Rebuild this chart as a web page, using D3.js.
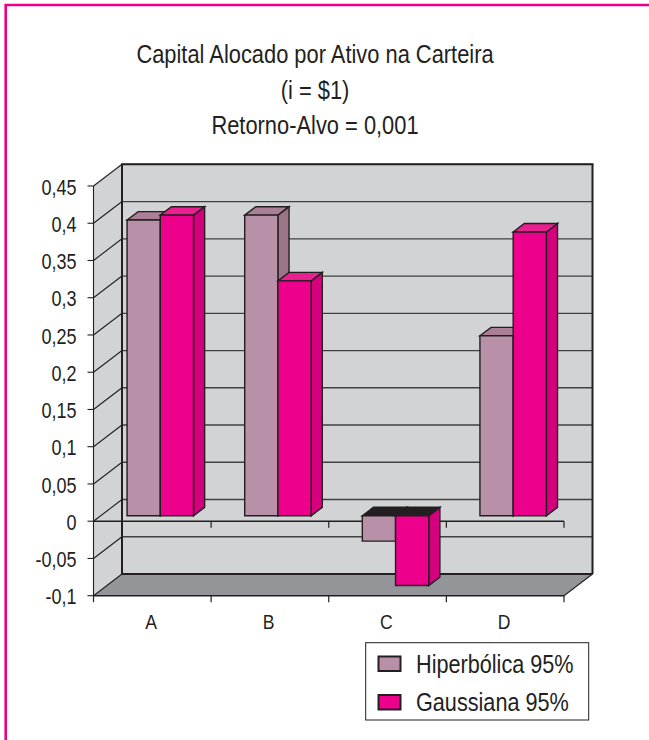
<!DOCTYPE html>
<html><head><meta charset="utf-8">
<script src="https://cdn.jsdelivr.net/npm/d3@7"></script>
<style>html,body{margin:0;padding:0;background:#fff}svg{display:block}text{font-family:"Liberation Sans",Arial,sans-serif;fill:#231f20}</style>
</head><body><svg id="c" width="649" height="740"></svg>
<script>
const categories=["A","B","C","D"];
const seriesNames=["Hiperbólica 95%","Gaussiana 95%"];
const hiperbolica=[0.397,0.4036,-0.034,0.2416];
const gaussiana=[0.4036,0.3154,-0.0936,0.381];
const yTicks=[0.45,0.4,0.35,0.3,0.25,0.2,0.15,0.1,0.05,0,-0.05,-0.1];
const titleLines=["Capital Alocado por Ativo na Carteira","(i = $1)","Retorno-Alvo = 0,001"];
const ink="#231f20";
const svg=d3.select("#c");
const x=d3.scaleBand().domain(categories).range([93.5,564]).paddingInner(0.435).paddingOuter(0.2175);
const x1=d3.scaleBand().domain(seriesNames).range([0,x.bandwidth()]);
const y=d3.scaleLinear().domain([-0.1,0.45]).range([595.7,186]);
const depth=d3.scaleLinear().domain([0,1]).range([0,28.5]);
const rise=d3.scaleLinear().domain([0,1]).range([0,21.7]);
const poly=(pts,fill,sw=1.4,stroke=ink)=>svg.append("polygon").attr("points",pts.map(p=>p.join(",")).join(" ")).attr("fill",fill).attr("stroke",stroke).attr("stroke-width",sw).attr("stroke-linejoin","miter");
const line=(a,b,c,d,w,col=ink)=>svg.append("line").attr("x1",a).attr("y1",b).attr("x2",c).attr("y2",d).attr("stroke",col).attr("stroke-width",w);
const label=(t,px,py,size,sx,anchor)=>svg.append("text").attr("transform",`translate(${px},${py}) scale(${sx},1)`).attr("text-anchor",anchor).attr("font-size",size).text(t);
// frame
svg.append("path").attr("d","M5.7,740V5H649").attr("fill","none").attr("stroke","#ec008c").attr("stroke-width",2.6);
// title
titleLines.forEach((t,i)=>label(t,315,63+i*35.5,25,0.875,"middle"));
// walls
const [x0,xN]=x.range(), [yB,yT]=y.range(), dx=depth(1), dy=rise(1);
poly([[x0+dx,yB-dy],[xN+dx,yB-dy],[xN+dx,yT-dy],[x0+dx,yT-dy]],"#d1d3d4",0);
poly([[x0,yB],[x0+dx,yB-dy],[x0+dx,yT-dy],[x0,yT]],"#d1d3d4",0);
poly([[x0,yB],[xN,yB],[xN+dx,yB-dy],[x0+dx,yB-dy]],"#939598",0);
// gridlines on walls
yTicks.forEach(v=>{
  const yy=y(v);
  if(v!==-0.1){
    line(x0,yy,x0+dx,yy-dy,1.1);
    line(x0+dx,yy-dy,xN+dx,yy-dy,1.3,"#414042");
  }
  line(x0-6,yy,x0,yy,1.1);
  label(String(v).replace(".",","),76.5,yy+8.7,22,0.82,"end");
});
line(x0,yT,x0,yB,1.1);
line(x0+dx,yT-dy,x0+dx,yB-dy,2);
line(xN+dx,yT-dy,xN+dx,yB-dy,2);
line(x0+dx-1,yT-dy,xN+dx+1,yT-dy,2);
line(x0+dx,yB-dy,xN+dx,yB-dy,2);
line(xN,yB,xN+dx,yB-dy,1.1);
line(x0,yB,x0+dx,yB-dy,1.1);
// front axes
const edges=[x0,...categories.map((c,i)=>x0+(xN-x0)*(i+1)/categories.length)];
[y(0),yB].forEach(b=>{
  line(x0,b,xN,b,1.4);
  edges.slice(1).forEach(e=>line(e,b,e,b+6.5,1.2));
});
line(x0,yB,x0,yB+6.5,1.2);
// category labels
categories.forEach(c=>label(c,x(c)+x.bandwidth()/2-1.2,629,20,0.88,"middle"));
// bars
const fx0=0.28,fy0=0.25,f1=0.64;
const sideCol=["#9c7488","#d6007f"], topCol=["#ab7f96","#e9218f"], faceCol=["#b890a8","#ec008c"];
const bars=(i,vals)=>categories.forEach((c,k)=>{
  const v=vals[k];
  const l=x(c)+x1(seriesNames[i])+depth(fx0), r=l+x1.bandwidth();
  const b0=y(0)-rise(fy0), tv=y(v)-rise(fy0);
  const ddx=depth(f1-fy0), ddy=rise(f1-fy0);
  const hi=Math.min(b0,tv), lo=Math.max(b0,tv);
  poly([[r,hi],[r+ddx,hi-ddy],[r+ddx,lo-ddy],[r,lo]],sideCol[i]);
  poly([[l,hi],[l+ddx,hi-ddy],[r+ddx,hi-ddy],[r,hi]],v<0?ink:topCol[i]);
  poly([[l,hi],[r,hi],[r,lo],[l,lo]],faceCol[i]);
});
bars(0,hiperbolica);
bars(1,gaussiana);
// legend
svg.append("rect").attr("x",365.7).attr("y",642.7).attr("width",223).attr("height",77.3).attr("fill","#fff").attr("stroke",ink).attr("stroke-width",1);
seriesNames.forEach((s,i)=>{
  const yy=656.5+i*38.5;
  svg.append("rect").attr("x",378.5).attr("y",yy).attr("width",22).attr("height",14.5).attr("fill",faceCol[i]).attr("stroke",ink).attr("stroke-width",2);
  label(s,416,yy+16,25,0.866,"start");
});
</script></body></html>
